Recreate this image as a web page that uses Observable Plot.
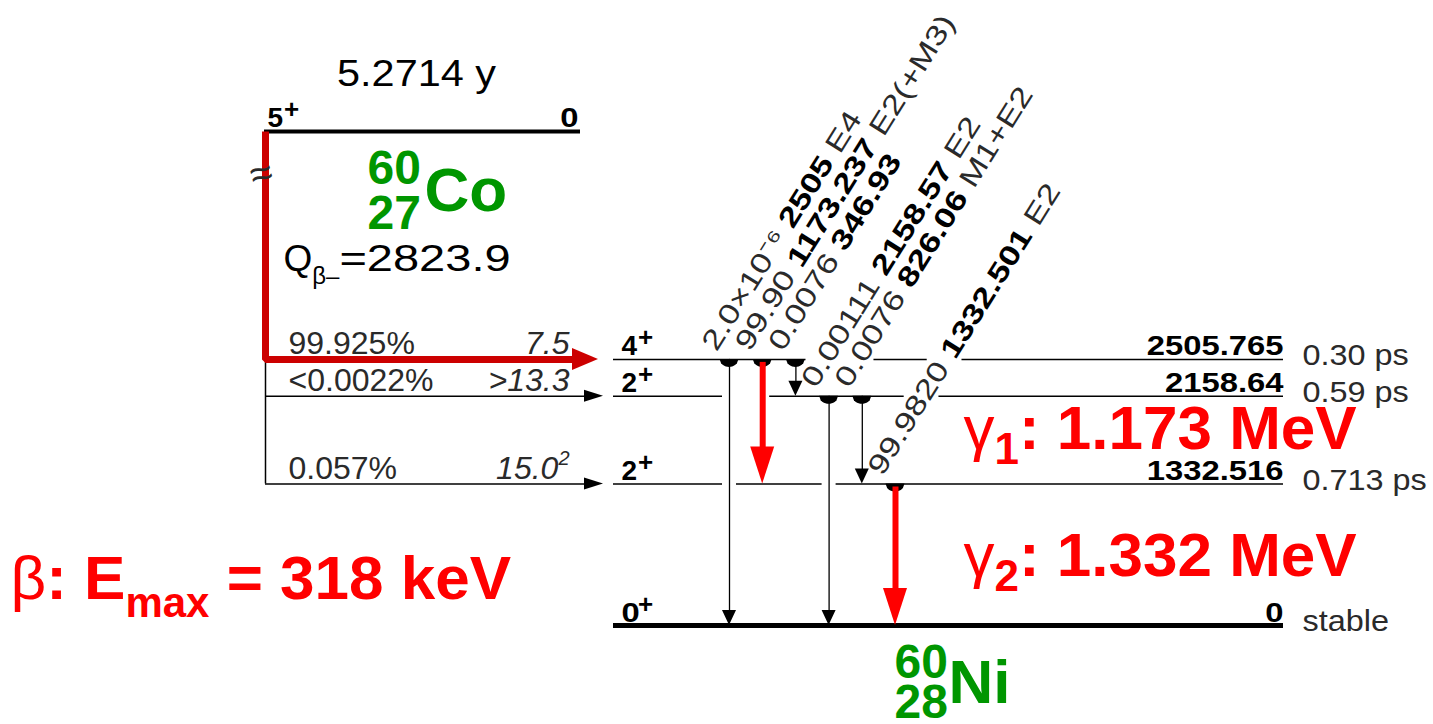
<!DOCTYPE html>
<html>
<head>
<meta charset="utf-8">
<script src="https://cdn.jsdelivr.net/npm/d3@7"></script>
<script src="https://cdn.jsdelivr.net/npm/@observablehq/plot@0.6"></script>
<style>
  html, body { margin: 0; padding: 0; background: #fff; }
  #chart svg { display: block; }
</style>
</head>
<body>
<div id="chart"></div>
<script>
// 60Co β− decay into 60Ni — level scheme with the two main γ lines highlighted.

// ---- data -----------------------------------------------------------------
// 60Ni levels (keV), spins, half-lives
const levelEnergy = [2505.765, 2158.64, 1332.516, 0];
const levelSpin = ["4", "2", "2", "0"];
const levelHalfLife = ["0.30 ps", "0.59 ps", "0.713 ps", "stable"];

// 60Co parent
const parentSpin = "5";
const parentEnergyLabel = "0";
const parentHalfLife = "5.2714 y";
const qValue = "2823.9";

// β− branches: fed level, intensity, log ft (+ uncertainty superscript)
const betaLevel = [2505.765, 2158.64, 1332.516];
const betaIntensity = ["99.925%", "<0.0022%", "0.057%"];
const betaLogFt = ["7.5", ">13.3", "15.0"];
const betaLogFtSup = ["", "", "2"];

// γ transitions: initial level, final level, energy, intensity, multipolarity
const gammaFrom = [2505.765, 2505.765, 2505.765, 2158.64, 2158.64, 1332.516];
const gammaTo = [0, 1332.516, 2158.64, 0, 1332.516, 0];
const gammaEnergy = ["2505", "1173.237", "346.93", "2158.57", "826.06", "1332.501"];
const gammaIntensity = ["2.0×10⁻⁶", "99.90", "0.0076", "0.00111", "0.0076", "99.9820"];
const gammaMultipolarity = ["E4", "E2(+M3)", "", "E2", "M1+E2", "E2"];
const gammaHighlight = [false, true, false, false, false, true];

// annotations
const gamma1Text = ": 1.173 MeV";
const gamma2Text = ": 1.332 MeV";
const betaMaxText = " = 318 keV";

// ---- layout ---------------------------------------------------------------
const W = 1433, H = 724;
const Y0 = 625, K = 0.1062;                 // ground-state row, pixels per keV
const yDomain = [-(H - Y0) / K, Y0 / K];
const eAt = (p) => (Y0 - p) / K;            // energy coordinate of a pixel row
const rowOf = (e) => Y0 - e * K;            // pixel row of an energy

const FONT = "'Liberation Sans', Arial, Helvetica, sans-serif";
const RED = "#ff0000", DARKRED = "#cc0000", GREEN = "#009600", GREY = "#2a2a2a";

const ctx = document.createElement("canvas").getContext("2d");
function textWidth(s, size, weight = "normal", style = "normal") {
  ctx.font = `${style} ${weight} ${size}px ${FONT}`;
  return ctx.measureText(s).width;
}

// the scheme's lettering is set wider than the font's natural width
const stretch = new Map();
function widen(s, sx) { stretch.set(s, sx); return s; }

const parentE = eAt(131);                  // parent drawn above a break in the energy axis
const niX1 = 613, niX2 = 1283;
const coX1 = 264, coX2 = 580;
const feedX = 265, feedTip = 603;
const colX = (i) => 729 + 33.2 * i;

// rotated transition labels
const ANG = -58;
const rad = ANG * Math.PI / 180;
const UX = Math.cos(rad), UY = Math.sin(rad);
const NX = Math.sin(rad), NY = -Math.cos(rad);
const LAB = {size: 28, sx: 1.26, ax: -13, ay: -7, h: 21};

const gammas = gammaEnergy.map((label, i) => ({
  i, x: colX(i), from: gammaFrom[i], to: gammaTo[i], label,
  intensity: gammaIntensity[i], mult: gammaMultipolarity[i], hot: gammaHighlight[i]
}));

const labelPieces = gammas.flatMap((g) => {
  const ax = g.x + LAB.ax, ay = rowOf(g.from) + LAB.ay;
  const parts = [[g.intensity, "normal"], [g.label, "bold"], [g.mult, "normal"]];
  const sp = textWidth(" ", LAB.size) * LAB.sx;
  let t = 0;
  const out = [];
  for (const [s, w] of parts) {
    if (!s) continue;
    out.push({x: ax + UX * t, y: eAt(ay + UY * t), text: s, weight: w});
    t += textWidth(s, LAB.size, w) * LAB.sx + sp;
  }
  g.ax = ax; g.ay = ay; g.len = t - sp;
  return out;
});

// level lines are broken where a transition passes or a label crosses
function levelGaps(e) {
  const yl = rowOf(e);
  const gaps = [];
  for (const g of gammas) {
    if (g.from > e && g.to < e) gaps.push([g.x - 7, g.x + 7]);
    if (g.from < e) {
      const tb = (yl - g.ay) / UY;
      const tt = (yl - g.ay - LAB.h * NY) / UY;
      if (tt >= 0 && tb <= g.len) {
        const xb = g.ax + UX * tb;
        const xt = g.ax + LAB.h * NX + UX * tt;
        gaps.push([Math.min(xb, xt) - 4, Math.max(xb, xt) + 6]);
      }
    }
  }
  gaps.sort((a, b) => a[0] - b[0]);
  const merged = [];
  for (const gp of gaps) {
    const last = merged[merged.length - 1];
    if (last && gp[0] - last[1] < 22) last[1] = Math.max(last[1], gp[1]);
    else merged.push(gp.slice());
  }
  return merged;
}
const levelSegments = levelEnergy.flatMap((e) => {
  const segs = [];
  let x = niX1;
  for (const [a, b] of levelGaps(e)) { segs.push({e, x1: x, x2: a}); x = b; }
  segs.push({e, x1: x, x2: niX2});
  return segs;
});

// arrowheads and decay-origin caps as small filled shapes
function downHead(x, e, w, h, key) {
  const top = e + h / K;
  return [{k: key, x: x - w, y1: top, y2: top}, {k: key, x, y1: top, y2: e}, {k: key, x: x + w, y1: top, y2: top}];
}
function rightHead(x, e, w, h, key) {
  const base = x - h;
  return [{k: key, y: e + w / K, x1: base, x2: base}, {k: key, y: e, x1: base, x2: x}, {k: key, y: e - w / K, x1: base, x2: base}];
}
const blackHeads = gammas.filter((g) => !g.hot).flatMap((g) => downHead(g.x, g.to, 7, 15, g.i));
const redHeads = gammas.filter((g) => g.hot).flatMap((g) => downHead(g.x, g.to, 12, 37, g.i));
const caps = gammas.flatMap((g) => d3.range(13).map((j) => {
  const t = -1 + j / 6;
  return {k: g.i, x: g.x + 9.5 * t, y1: g.from, y2: g.from - 8 * Math.sqrt(Math.max(0, 1 - t * t)) / K};
}));
const betaHeads = betaLevel.slice(1).flatMap((e, i) => rightHead(feedTip, e, 6, 19, i));
const mainBetaHead = rightHead(598, betaLevel[0], 11, 26, 0);

// ---- text helpers ---------------------------------------------------------
function txt(text, px, py, o = {}) {
  if (o.sx) widen(text, o.sx);
  return Plot.text([text], {
    x: px, y: eAt(py), text: (d) => d,
    textAnchor: o.anchor || "start", lineAnchor: "bottom",
    fontSize: o.size || 27, fontWeight: o.weight || "normal", fontStyle: o.style || "normal",
    fill: o.fill || "#000", rotate: o.rotate || 0
  });
}
// consecutive pieces on one line: [text, size, weight, baselineShift, style]
function run(pieces, x0, base, fill) {
  let x = x0;
  return pieces.map(([s, size, weight, shift = 0, style = "normal", sx = 1]) => {
    const m = txt(s, x, base + shift, {size, weight, fill, style, sx});
    x += textWidth(s, size, weight, style) * sx;
    return m;
  });
}

levelEnergy.forEach((e) => widen(String(e), 1.17));
levelHalfLife.forEach((s) => widen(s, 1.08));

// ---- marks ----------------------------------------------------------------
const marks = [
  // parent level
  Plot.ruleY([parentE], {x1: coX1, x2: coX2, stroke: "#000", strokeWidth: 4}),
  // daughter levels
  Plot.ruleY(levelSegments.filter((d) => d.e > 0), {y: "e", x1: "x1", x2: "x2", stroke: "#000", strokeWidth: 1.5}),
  Plot.ruleY(levelSegments.filter((d) => d.e === 0), {y: "e", x1: "x1", x2: "x2", stroke: "#000", strokeWidth: 5}),

  // β− feeding: thin feeder line and branches
  Plot.ruleX([feedX], {y1: parentE, y2: betaLevel[betaLevel.length - 1], stroke: "#000", strokeWidth: 1.5}),
  Plot.ruleY(betaLevel.slice(1), {y: (d) => d, x1: feedX, x2: feedTip - 15, stroke: "#000", strokeWidth: 1.5}),
  Plot.areaX(betaHeads, {y: "y", x1: "x1", x2: "x2", z: "k", fill: "#000", curve: "linear"}),
  // main β− branch
  Plot.line([[feedX, parentE], [feedX, betaLevel[0]], [575, betaLevel[0]]],
    {x: (d) => d[0], y: (d) => d[1], stroke: DARKRED, strokeWidth: 7, strokeLinejoin: "miter", strokeLinecap: "butt"}),
  Plot.areaX(mainBetaHead, {y: "y", x1: "x1", x2: "x2", z: "k", fill: DARKRED, curve: "linear"}),

  // γ transitions
  Plot.areaY(caps, {x: "x", y1: "y1", y2: "y2", z: "k", fill: "#000", curve: "linear"}),
  Plot.ruleX(gammas.filter((g) => !g.hot), {x: "x", y1: "from", y2: (g) => g.to + 12 / K, stroke: "#000", strokeWidth: 1.3}),
  Plot.areaY(blackHeads, {x: "x", y1: "y1", y2: "y2", z: "k", fill: "#000", curve: "linear"}),
  Plot.ruleX(gammas.filter((g) => g.hot), {x: "x", y1: (g) => g.from - 3 / K, y2: (g) => g.to + 34 / K, stroke: RED, strokeWidth: 6}),
  Plot.areaY(redHeads, {x: "x", y1: "y1", y2: "y2", z: "k", fill: RED, curve: "linear"}),

  // rotated transition labels
  Plot.text(labelPieces.filter((d) => d.weight === "normal"), {
    x: "x", y: "y", text: "text", rotate: ANG, textAnchor: "start", lineAnchor: "bottom",
    fontSize: LAB.size, fill: GREY
  }),
  Plot.text(labelPieces.filter((d) => d.weight === "bold"), {
    x: "x", y: "y", text: "text", rotate: ANG, textAnchor: "start", lineAnchor: "bottom",
    fontSize: LAB.size, fontWeight: "bold", fill: "#000"
  }),

  // daughter level labels
  Plot.text(levelEnergy, {x: 621, y: (d) => d, text: (d, i) => levelSpin[i], textAnchor: "start", lineAnchor: "bottom", dy: -4, fontSize: 28, fontWeight: "bold", fill: "#000"}),
  Plot.text(levelEnergy, {x: 621 + textWidth("4", 28, "bold") + 1, y: (d) => d, text: () => "+", textAnchor: "start", lineAnchor: "bottom", dy: -13, fontSize: 26, fontWeight: "bold", fill: "#000"}),
  Plot.text(levelEnergy, {x: niX2, y: (d) => d, text: (d) => String(d), textAnchor: "end", lineAnchor: "bottom", dy: -4, fontSize: 28, fontWeight: "bold", fill: "#000"}),
  Plot.text(levelEnergy, {x: 1302, y: (d) => d, text: (d, i) => levelHalfLife[i], textAnchor: "start", lineAnchor: "middle", dy: -4, fontSize: 30, fill: GREY}),

  // β− branch labels
  Plot.text(betaLevel, {x: 288, y: (d) => d, text: (d, i) => betaIntensity[i], textAnchor: "start", lineAnchor: "bottom", dy: -5, fontSize: 32, fill: GREY}),
  Plot.text(betaLevel, {x: (d, i) => 569 - textWidth(betaLogFtSup[i], 20), y: (d) => d, text: (d, i) => betaLogFt[i], textAnchor: "end", lineAnchor: "bottom", dy: -5, fontSize: 32, fontStyle: "italic", fill: GREY}),
  Plot.text(betaLevel, {x: (d, i) => 569 - textWidth(betaLogFtSup[i], 20), y: (d) => d, text: (d, i) => betaLogFtSup[i], textAnchor: "start", lineAnchor: "bottom", dy: -19, fontSize: 20, fontStyle: "italic", fill: GREY}),

  // parent level labels
  txt(parentSpin, 267, 126, {size: 28, weight: "bold"}),
  txt("+", 267 + textWidth(parentSpin, 28, "bold") + 1, 117, {size: 26, weight: "bold"}),
  txt(parentEnergyLabel, coX2 - 2, 126, {size: 28, weight: "bold", anchor: "end"}),
  txt(parentHalfLife, 416, 85, {size: 37, anchor: "middle", sx: 1.12}),
  txt("≈", 264, 186, {size: 40, fill: GREY, anchor: "middle", rotate: -15}),
  ...run([["Q", 37, "normal"], ["β–", 24, "normal", 13], ["=" + qValue, 37, "normal", 0, "normal", 1.27]], 283, 270, "#000"),

  // nuclide symbols
  txt("60", 367, 183, {size: 48, weight: "bold", fill: GREEN}),
  txt("27", 367, 228, {size: 48, weight: "bold", fill: GREEN}),
  txt("Co", 424, 210, {size: 62, weight: "bold", fill: GREEN}),
  txt("60", 894, 677, {size: 48, weight: "bold", fill: GREEN}),
  txt("28", 894, 717, {size: 48, weight: "bold", fill: GREEN}),
  txt("Ni", 948, 702, {size: 62, weight: "bold", fill: GREEN}),

  // energy annotations
  ...run([["γ", 62, "normal"], ["1", 44, "bold", 15], [gamma1Text, 62, "bold"]], 963, 448, RED),
  ...run([["γ", 62, "normal"], ["2", 44, "bold", 15], [gamma2Text, 62, "bold"]], 963, 575, RED),
  ...run([["β", 62, "normal"], [": E", 62, "bold"], ["max", 42, "bold", 18], [betaMaxText, 62, "bold"]], 10, 598, RED)
];

const chart = Plot.plot({
  width: W, height: H,
  marginTop: 0, marginRight: 0, marginBottom: 0, marginLeft: 0,
  x: {domain: [0, W], axis: null},
  y: {domain: yDomain, axis: null},
  style: {fontFamily: FONT, background: "#fff", overflow: "visible"},
  marks
});

// apply the horizontal lettering stretch along each text's own baseline
chart.querySelectorAll("text").forEach((el) => {
  const tf = el.getAttribute("transform") || "";
  const sx = stretch.has(el.textContent) ? stretch.get(el.textContent)
    : tf.includes(`rotate(${ANG})`) ? LAB.sx : 1;
  if (sx !== 1) el.setAttribute("transform", `${tf} scale(${sx},1)`);
});

document.getElementById("chart").append(chart);
</script>
</body>
</html>
